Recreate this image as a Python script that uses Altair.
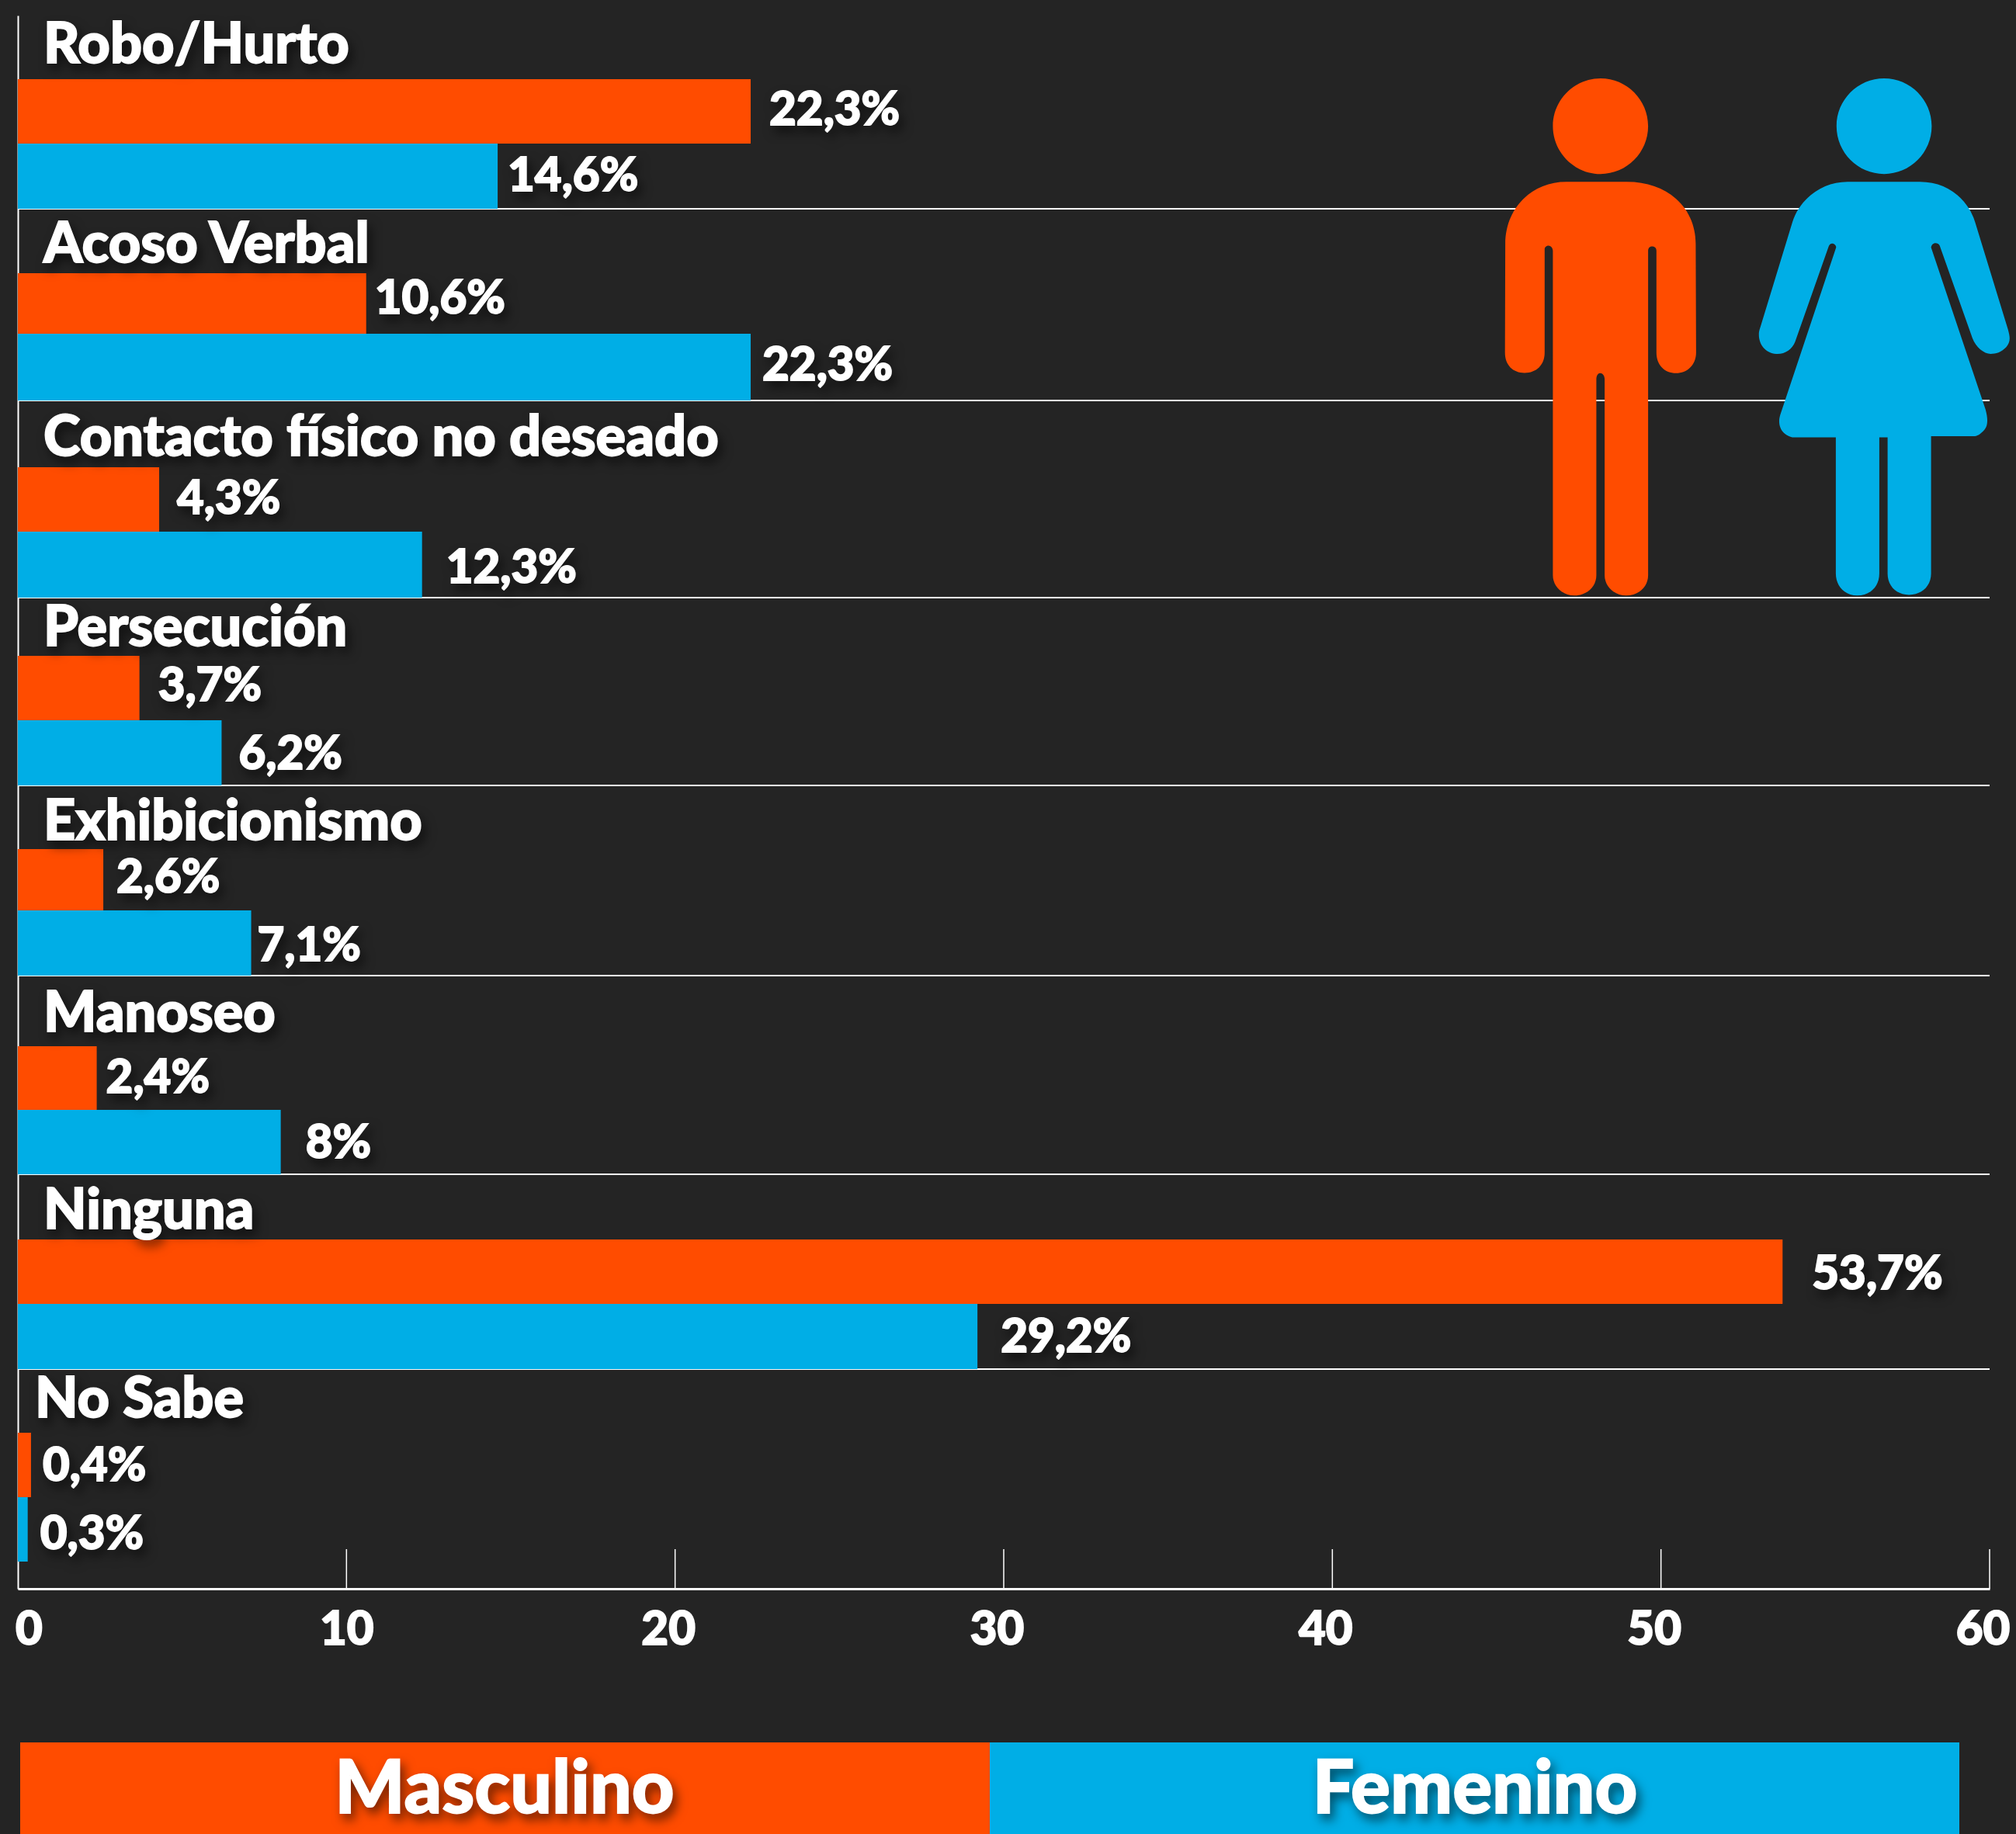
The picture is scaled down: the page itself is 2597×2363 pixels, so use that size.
import re
import altair as alt
import pandas as pd

BG = "#242424"
ORANGE = "#FF4C00"
BLUE = "#00AEE6"
FONT = "Lato"

categories = ["Robo/Hurto", "Acoso Verbal", "Contacto físico no deseado", "Persecución",
              "Exhibicionismo", "Manoseo", "Ninguna", "No Sabe"]
masculino = [22.3, 10.6, 4.3, 3.7, 2.6, 2.4, 53.7, 0.4]
femenino = [14.6, 22.3, 12.3, 6.2, 7.1, 8.0, 29.2, 0.3]
ticks = [10, 20, 30, 40, 50, 60]

# gap between bar end and its label, in pixels
gap_m = [27, 14, 26, 27, 20, 15, 41, 18]
gap_f = [16, 18, 34, 25, 11, 35, 33, 19]
title_gap = [0, 0, 0, 0, 0, 0, 0, -11]

# piecewise vertical scale: each row has six landmarks
row_top = [20, 269, 516, 770, 1012, 1257, 1513, 1764]
title_base = [81, 338, 587, 832, 1082, 1329, 1583, 1826]
orange_top = [102, 352, 602, 845, 1094, 1348, 1597, 1846]
orange_base = [161, 404, 662, 903, 1150, 1408, 1661, 1908]
blue_top = [185, 430, 685, 928, 1173, 1430, 1680, 1929]
blue_base = [246, 490, 751, 991, 1238, 1492, 1742, 1996]

OX, OY = 23, 20
PW, PH = 2540, 2027
UNIT = PW / 60

slots, px = [], []
for r in range(8):
    for k, col in enumerate([row_top, title_base, orange_top, orange_base, blue_top, blue_base]):
        slots.append(r * 6 + k)
        px.append(col[r] - OY)
slots += [48, 51]
px += [2012 - OY, 2047 - OY]

xscale = alt.Scale(domain=[0, 60], range=[0, PW], nice=False, zero=False)
yscale = alt.Scale(domain=slots, range=px, nice=False, zero=False)

bars, labels, titles = [], [], []
for r, c in enumerate(categories):
    titles.append({"cat": c, "x": title_gap[r] / UNIT + 33 / UNIT, "slot": r * 6 + 1})
    for v, g, top, base, bot, col in [
        (masculino[r], gap_m[r], 2, 3, 4, ORANGE),
        (femenino[r], gap_f[r], 4, 5, 6, BLUE),
    ]:
        bars.append({"start": 0, "v": v, "top": r * 6 + top, "bot": r * 6 + bot, "c": col})
        txt = (f"{v:g}".replace(".", ",")) + "%"
        labels.append({"t": txt, "x": v + (g - 3) / UNIT, "slot": r * 6 + base})

X = alt.X("v:Q", scale=xscale,
          axis=alt.Axis(values=[0, 10, 20, 30, 40, 50, 60], title=None, grid=False, ticks=False,
                        domainColor="white", domainWidth=3, labelColor="white", labelFont=FONT,
                        labelFontWeight=900, labelFontSize=60, labelPadding=24, labelFlush=False,
                        labelBound=False, labelOverlap=False,
                        labelOffset=alt.expr("datum.value==0?14:datum.value==10?0:-9")))
Y = alt.Y("top:Q", scale=yscale,
          axis=alt.Axis(title=None, labels=False, ticks=False, grid=False,
                        domainColor="white", domainWidth=2))

bar_layer = alt.Chart(pd.DataFrame(bars)).mark_rect().encode(
    x=alt.X("start:Q", scale=xscale), x2="v:Q",
    y=alt.Y("top:Q", scale=yscale), y2="bot:Q",
    fill=alt.Fill("c:N", scale=None))

base_axes = alt.Chart(pd.DataFrame(bars)).mark_rect(opacity=0).encode(x=X, y=Y)

sep = alt.Chart(pd.DataFrame({"s": [r * 6 for r in range(1, 8)], "a": [0] * 7, "b": [60] * 7})).mark_rule(
    color="white", strokeWidth=2).encode(
    x=alt.X("a:Q", scale=xscale), x2="b:Q", y=alt.Y("s:Q", scale=yscale))

tick_layer = alt.Chart(pd.DataFrame({"t": ticks})).mark_rule(color="white", strokeWidth=1.5).encode(
    x=alt.X("t:Q", scale=xscale), y=alt.value(1996 - OY), y2=alt.value(2047 - OY))

title_layer = alt.Chart(pd.DataFrame(titles)).mark_text(
    align="left", baseline="alphabetic", color="white", font=FONT, fontWeight=900, fontSize=72).encode(
    x=alt.X("x:Q", scale=xscale), y=alt.Y("slot:Q", scale=yscale), text="cat:N")

label_layer = alt.Chart(pd.DataFrame(labels)).mark_text(
    align="left", baseline="alphabetic", color="white", font=FONT, fontWeight=900, fontSize=60).encode(
    x=alt.X("x:Q", scale=xscale), y=alt.Y("slot:Q", scale=yscale), text="t:N")


def rescale(path):
    nums = iter(range(10**6))
    def f(m):
        v = float(m.group())
        return f"{(1900 + v / 2.25 - OX):.1f}" if next(nums) % 2 == 0 else f"{(80 + v / 2.178 - OY):.1f}"
    return re.sub(r"\d+(?:\.\d+)?", f, path)


def head(cx):
    rx, ry, kx, ky = 138, 134, 76, 74
    cy = 180
    return (f"M {cx-rx},{cy} C {cx-rx},{cy-ky} {cx-kx},{cy-ry} {cx},{cy-ry} "
            f"C {cx+kx},{cy-ry} {cx+rx},{cy-ky} {cx+rx},{cy} "
            f"C {cx+rx},{cy+ky} {cx+kx},{cy+ry} {cx},{cy+ry} "
            f"C {cx-kx},{cy+ry} {cx-rx},{cy+ky} {cx-rx},{cy} Z ")


man = head(364) + ("M 265,336 L 440,336 C 560,336 640,410 640,510 L 641,815 C 641,850 615,873 583,873 "
    "C 550,873 526,850 526,815 L 526,530 C 526,520 520,517 513,517 C 506,517 502,522 502,530 L 502,1440 "
    "C 502,1472 475,1497 438,1497 C 405,1497 376,1472 376,1440 L 376,890 C 376,880 370,873 363,873 "
    "C 357,873 352,880 352,890 L 352,1440 C 352,1472 325,1497 288,1497 C 255,1497 226,1472 226,1440 "
    "L 226,530 C 226,522 220,515 213,515 C 207,515 202,520 202,525 L 202,815 C 202,850 178,872 144,872 "
    "C 110,872 87,850 87,815 L 88,510 C 88,410 165,336 265,336 Z")
woman = head(1186) + ("M 1080,336 L 1290,336 C 1370,336 1430,385 1450,450 L 1545,750 C 1552,775 1552,785 1540,800 "
    "C 1525,815 1510,819 1495,819 C 1475,819 1452,800 1442,775 L 1347,515 C 1342,505 1325,505 1322,520 "
    "L 1480,975 C 1487,1000 1487,1020 1478,1030 C 1465,1045 1455,1050 1445,1050 L 1322,1050 L 1322,1435 "
    "C 1322,1470 1295,1495 1258,1495 C 1222,1495 1196,1470 1196,1435 L 1196,1053 L 1172,1053 L 1172,1435 "
    "C 1172,1472 1145,1497 1108,1497 C 1072,1497 1046,1470 1046,1435 L 1046,1053 L 920,1053 "
    "C 905,1050 890,1040 885,1025 C 880,1010 882,1000 885,990 L 1047,520 C 1047,510 1030,503 1025,518 "
    "L 928,785 C 920,805 900,819 877,819 C 845,819 823,795 823,765 C 823,755 825,750 830,735 "
    "L 920,450 C 940,385 1005,336 1080,336 Z")

one = pd.DataFrame({"n": [1]})


def icon(path, color):
    return alt.Chart(one).mark_point(shape=rescale(path), size=4, filled=True, fill=color, opacity=1,
                                     strokeWidth=0).encode(x=alt.value(0), y=alt.value(0))


def legend_box(x0, x1, color):
    return alt.Chart(one).mark_rect(color=color).encode(
        x=alt.value(x0 - OX), x2=alt.value(x1 - OX), y=alt.value(2245 - OY), y2=alt.value(2363 - OY))


def legend_text(name, xc):
    return alt.Chart(pd.DataFrame({"t": [name]})).mark_text(
        align="center", baseline="alphabetic", color="white", font=FONT, fontWeight=900, fontSize=95).encode(
        x=alt.value(xc - OX), y=alt.value(2336 - OY), text="t:N")


chart = alt.layer(
    base_axes, sep, tick_layer, bar_layer, title_layer, label_layer,
    icon(man, ORANGE), icon(woman, BLUE),
    legend_box(26, 1275, ORANGE), legend_box(1275, 2524, BLUE),
    legend_text("Masculino", 650), legend_text("Femenino", 1900),
).properties(
    width=PW, height=PH, background=BG,
    padding={"left": 15, "top": 12, "right": 26, "bottom": 316},
    autosize=alt.AutoSizeParams(type="none"),
).configure_view(stroke=None)

STYLE = ("html,body{background:#242424}"
         "svg text{stroke:#fff;stroke-width:1.8px}"
         ".mark-text.role-mark text{filter:drop-shadow(5px 8px 7px rgba(0,0,0,.55))}")
chart.save("out.html", embed_options={"renderer": "svg", "actions": False, "defaultStyle": STYLE})
